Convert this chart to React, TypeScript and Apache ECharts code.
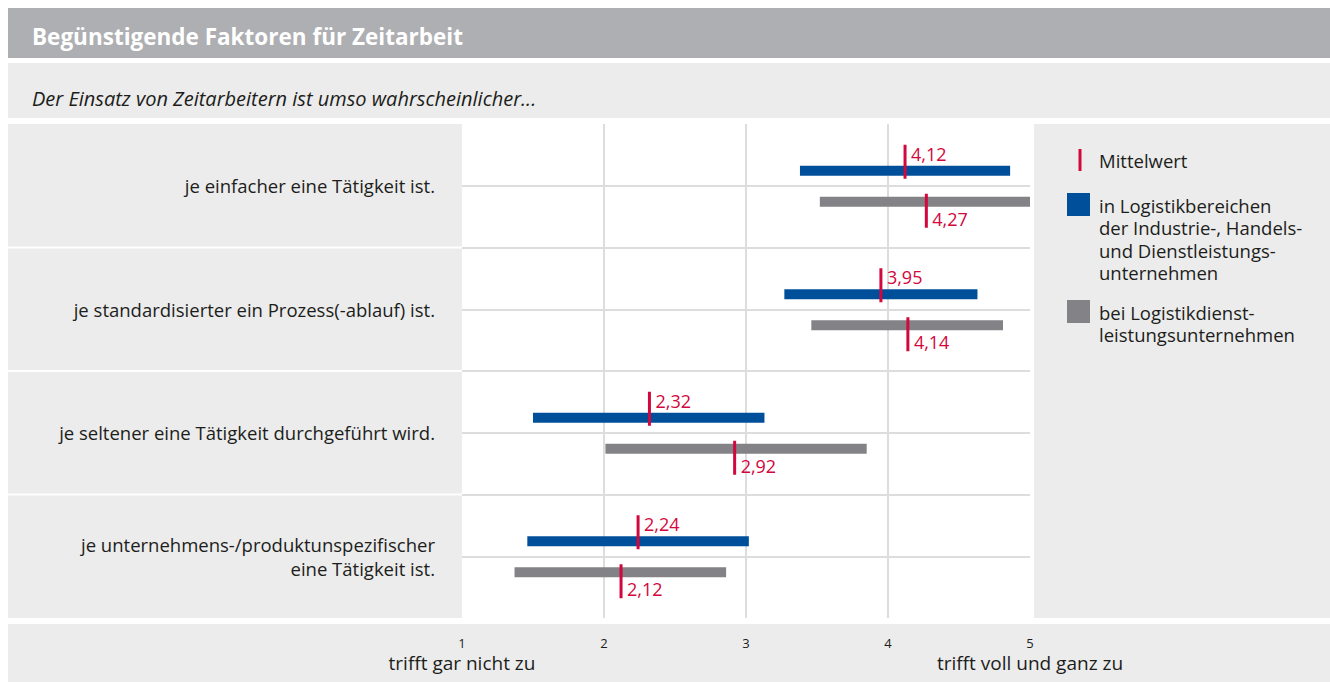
import React, { useEffect, useRef } from "react";
import * as echarts from "echarts";

const categories = [
  "je einfacher eine Tätigkeit ist.",
  "je standardisierter ein Prozess(-ablauf) ist.",
  "je seltener eine Tätigkeit durchgeführt wird.",
  "je unternehmens-/produktunspezifischer\neine Tätigkeit ist.",
];
const industryMin = [3.38, 3.27, 1.5, 1.46];
const industryMax = [4.86, 4.63, 3.13, 3.02];
const industryMean = [4.12, 3.95, 2.32, 2.24];
const serviceMin = [3.52, 3.46, 2.01, 1.37];
const serviceMax = [5.0, 4.81, 3.85, 2.86];
const serviceMean = [4.27, 4.14, 2.92, 2.12];
const scaleEnds = ["trifft gar nicht zu", "trifft voll und ganz zu"];
const title = "Begünstigende Faktoren für Zeitarbeit";
const subtitle = "Der Einsatz von Zeitarbeitern ist umso wahrscheinlicher...";
const legendMean = "Mittelwert";
const seriesNames = [
  "in Logistikbereichen\nder Industrie-, Handels-\nund Dienstleistungs-\nunternehmen",
  "bei Logistikdienst-\nleistungsunternehmen",
];

const FONT = '"Open Sans", "Noto Sans", sans-serif';
const BLUE = "#004f9b";
const GREY = "#838286";
const RED = "#d2073d";
const PANEL = "#ebeceb";
const HEADER = "#aeafb2";
const TEXT = "#1d1d1b";
const GRID = "#dddddd";

function makeSeries(name: string, mins: number[], maxs: number[], means: number[], color: string, side: number) {
  return {
    type: "custom",
    name,
    data: mins.map((m, i) => [m, maxs[i], means[i], 2 * i + 1]),
    encode: { x: [0, 1, 2], y: 3 },
    renderItem: (params: any, api: any) => {
      const p0 = api.coord([api.value(0), api.value(3)]);
      const p1 = api.coord([api.value(1), api.value(3)]);
      const pm = api.coord([api.value(2), api.value(3)]);
      const cy = p0[1] + (side < 0 ? -15 : 16);
      const label = Number(api.value(2)).toFixed(2).replace(".", ",");
      const top = side < 0 ? cy - 26 : cy - 8;
      const bot = side < 0 ? cy + 8 : cy + 26;
      const ty = side < 0 ? cy - 17 : cy + 17;
      return {
        type: "group",
        children: [
          {
            type: "rect",
            shape: { x: p0[0], y: cy - 5, width: p1[0] - p0[0], height: 10 },
            style: { fill: color },
          },
          {
            type: "line",
            shape: { x1: pm[0], y1: top, x2: pm[0], y2: bot },
            style: { stroke: RED, lineWidth: 3 },
          },
          {
            type: "text",
            style: {
              x: pm[0] + 6,
              y: ty,
              text: label,
              fill: RED,
              fontSize: 18,
              fontFamily: FONT,
              align: "left",
              verticalAlign: "middle",
            },
          },
        ],
      };
    },
  };
}

function legendLines(text: string, firstCenter: number) {
  return text.split("\n").map((line, i) => ({
    type: "text",
    z: 5,
    style: {
      x: 1099,
      y: firstCenter + i * 22.5,
      text: line,
      fill: TEXT,
      fontSize: 18.5,
      fontFamily: FONT,
      verticalAlign: "middle",
    },
  }));
}

export default function App() {
  const ref = useRef<HTMLDivElement>(null);
  useEffect(() => {
    document.body.style.margin = "0";
    const chart = echarts.init(ref.current!, null, { renderer: "svg" });
    const rowH = 494 / 4;
    const labelPanels = [0, 1, 2, 3].map((i) => ({
      type: "rect",
      z: -10,
      shape: { x: 8, y: 124 + i * rowH + (i > 0 ? 1 : 0), width: 454, height: rowH - (i > 0 ? 1 : 0) - (i < 3 ? 1 : 0) },
      style: { fill: PANEL },
    }));
    chart.setOption({
      animation: false,
      backgroundColor: "#ffffff",
      grid: { left: 462, right: 300, top: 124, bottom: 64, containLabel: false },
      xAxis: {
        type: "value",
        min: 1,
        max: 5,
        interval: 1,
        axisLine: { show: false },
        axisTick: { show: false },
        splitLine: { show: true, showMinLine: false, showMaxLine: false, lineStyle: { color: GRID, width: 2 } },
        axisLabel: {
          margin: 18,
          color: TEXT,
          fontFamily: FONT,
          formatter: (v: number) => {
            if (v === 1) return "{n|1}\n{t|" + scaleEnds[0] + "}";
            if (v === 5) return "{n|5}\n{t|" + scaleEnds[1] + "}";
            return "{n|" + v + "}";
          },
          rich: {
            n: { fontSize: 13, lineHeight: 14, color: TEXT, fontFamily: FONT },
            t: { fontSize: 19, lineHeight: 26, color: TEXT, fontFamily: FONT },
          },
        },
      },
      yAxis: {
        type: "value",
        min: 0,
        max: 8,
        interval: 1,
        inverse: true,
        axisLine: { show: false },
        axisTick: { show: false },
        splitLine: { show: true, showMinLine: false, showMaxLine: false, lineStyle: { color: GRID, width: 2 } },
        axisLabel: {
          margin: 27,
          color: TEXT,
          fontSize: 18.5,
          lineHeight: 24,
          fontFamily: FONT,
          align: "right",
          formatter: (v: number) => (v % 2 === 1 ? categories[(v - 1) / 2] : ""),
        },
      },
      graphic: [
        { type: "rect", z: -10, shape: { x: 8, y: 8, width: 1322, height: 50 }, style: { fill: HEADER } },
        {
          type: "text",
          z: 5,
          style: { x: 32, y: 36, text: title, fill: "#ffffff", fontSize: 22.5, fontWeight: "bold", fontFamily: FONT, verticalAlign: "middle" },
        },
        { type: "rect", z: -10, shape: { x: 8, y: 63, width: 1322, height: 55 }, style: { fill: PANEL } },
        {
          type: "text",
          z: 5,
          style: { x: 32, y: 98, text: subtitle, fill: TEXT, fontSize: 20, fontStyle: "italic", fontFamily: FONT, verticalAlign: "middle" },
        },
        ...labelPanels,
        { type: "rect", z: -10, shape: { x: 1034, y: 124, width: 296, height: 494 }, style: { fill: PANEL } },
        { type: "rect", z: -10, shape: { x: 8, y: 624, width: 1322, height: 58 }, style: { fill: PANEL } },
        { type: "line", z: 5, shape: { x1: 1080, y1: 149, x2: 1080, y2: 171 }, style: { stroke: RED, lineWidth: 3 } },
        ...legendLines(legendMean, 160),
        { type: "rect", z: 5, shape: { x: 1067, y: 193, width: 23, height: 23 }, style: { fill: BLUE } },
        ...legendLines(seriesNames[0], 205),
        { type: "rect", z: 5, shape: { x: 1067, y: 300, width: 23, height: 23 }, style: { fill: GREY } },
        ...legendLines(seriesNames[1], 312),
      ],
      series: [
        makeSeries("Industrie/Handel/Dienstleistung", industryMin, industryMax, industryMean, BLUE, -1),
        makeSeries("Logistikdienstleister", serviceMin, serviceMax, serviceMean, GREY, 1),
      ],
    });
    return () => chart.dispose();
  }, []);
  return <div ref={ref} style={{ width: 1330, height: 682 }} />;
}
